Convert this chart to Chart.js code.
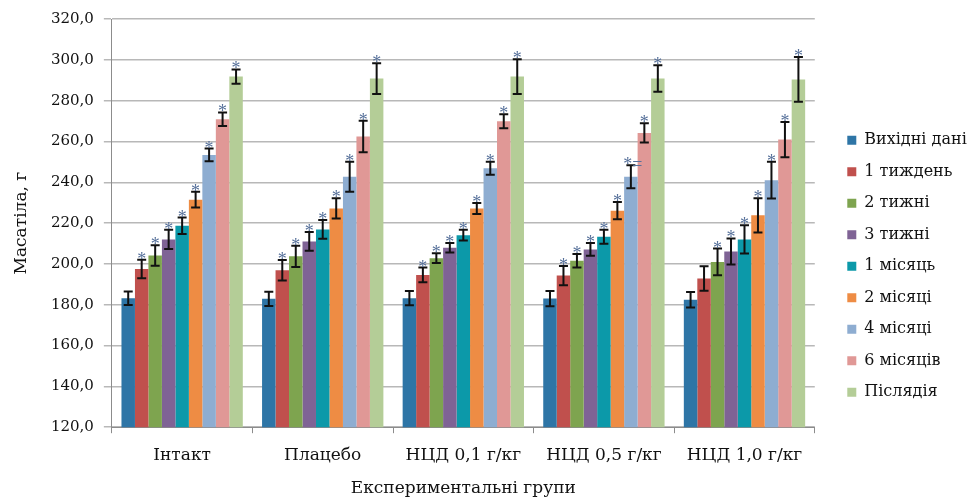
<!DOCTYPE html>
<html>
<head>
<meta charset="utf-8">
<script src="https://cdn.jsdelivr.net/npm/chart.js@4.4.1/dist/chart.umd.min.js"></script>
<style>
  html, body { margin: 0; padding: 0; background: #fff; }
</style>
</head>
<body>
<canvas id="myChart" width="975" height="499"></canvas>
<script>
const groups = ['Інтакт', 'Плацебо', 'НЦД 0,1 г/кг', 'НЦД 0,5 г/кг', 'НЦД 1,0 г/кг'];
const seriesNames = ['Вихідні дані', '1 тиждень', '2 тижні', '3 тижні', '1 місяць', '2 місяці', '4 місяці', '6 місяців', 'Післядія'];
const seriesColors = ['#2E75A6', '#C0504D', '#7EA44F', '#7F6395', '#0C99A9', '#EE8C44', '#8EADD1', '#E09896', '#B4CD97'];

const baseline = [183.2, 182.9, 183.2, 183.0, 182.4];
const week1 = [197.5, 196.9, 194.6, 194.3, 192.8];
const week2 = [204.1, 203.7, 202.8, 201.5, 201.0];
const week3 = [212.0, 211.0, 207.9, 207.1, 206.1];
const month1 = [218.7, 216.9, 214.1, 213.3, 212.0];
const month2 = [231.5, 227.2, 227.2, 226.1, 223.8];
const month4 = [253.4, 242.7, 246.9, 242.7, 241.0];
const month6 = [270.9, 262.4, 269.9, 264.2, 260.9];
const after = [291.8, 290.8, 291.8, 290.8, 290.4];

const baselineErr = [3.3, 3.5, 3.5, 3.7, 3.8];
const week1Err = [4.5, 5.0, 3.6, 4.7, 6.0];
const week2Err = [5.0, 5.2, 2.4, 3.3, 6.5];
const week3Err = [4.7, 4.6, 2.3, 3.1, 6.4];
const month1Err = [4.0, 4.6, 2.6, 3.4, 6.9];
const month2Err = [3.8, 5.0, 2.7, 4.2, 8.4];
const month4Err = [3.1, 7.4, 3.2, 5.6, 9.0];
const month6Err = [3.3, 7.7, 3.4, 4.7, 8.6];
const afterErr = [3.5, 7.5, 8.5, 6.5, 11.0];

const baselineMarks = ['', '', '', '', ''];
const week1Marks = ['*', '*', '*', '*', ''];
const week2Marks = ['*', '*', '*', '*', '*'];
const week3Marks = ['*', '*', '*', '*', '*'];
const month1Marks = ['*', '*', '*', '*', '*'];
const month2Marks = ['*', '*', '*', '*', '*'];
const month4Marks = ['*', '*', '*', '*=', '*'];
const month6Marks = ['*', '*', '*', '*', '*'];
const afterMarks = ['*', '*', '*', '*', '*'];

const values = [baseline, week1, week2, week3, month1, month2, month4, month6, after];
const errors = [baselineErr, week1Err, week2Err, week3Err, month1Err, month2Err, month4Err, month6Err, afterErr];
const marks = [baselineMarks, week1Marks, week2Marks, week3Marks, month1Marks, month2Marks, month4Marks, month6Marks, afterMarks];

const yTicks = [120, 140, 160, 180, 200, 220, 240, 260, 280, 300, 320];

const serif = "'DejaVu Serif', 'Liberation Serif', serif";
Chart.defaults.font.family = serif;
Chart.defaults.color = '#1a1a1a';

// error bars and significance marks
const errorBars = {
    id: 'errorBars',
    afterDatasetsDraw(chart) {
        const ctx = chart.ctx;
        const y = chart.scales.y;
        ctx.save();
        chart.data.datasets.forEach((ds, i) => {
            const meta = chart.getDatasetMeta(i);
            meta.data.forEach((bar, j) => {
                const v = ds.data[j];
                const e = errors[i][j];
                const top = y.getPixelForValue(v + e);
                const bottom = y.getPixelForValue(v - e);
                ctx.strokeStyle = '#111';
                ctx.lineWidth = 2;
                ctx.beginPath();
                ctx.moveTo(bar.x, top);
                ctx.lineTo(bar.x, bottom);
                ctx.moveTo(bar.x - 4.5, top);
                ctx.lineTo(bar.x + 4.5, top);
                ctx.moveTo(bar.x - 4.5, bottom);
                ctx.lineTo(bar.x + 4.5, bottom);
                ctx.stroke();
                const m = marks[i][j];
                if (m) {
                    ctx.fillStyle = '#56709a';
                    ctx.font = "18px 'Liberation Serif'";
                    ctx.textAlign = 'center';
                    ctx.textBaseline = 'alphabetic';
                    ctx.fillText(m, bar.x + (m.length > 1 ? 2 : 0), top + 5);
                }
            });
        });
        ctx.restore();
    }
};

// push the legend a little to the right, as in the original layout
const legendShift = {
    id: 'legendShift',
    afterLayout(chart) {
        chart.legend.left += 17;
    }
};

const ctx = document.getElementById('myChart').getContext('2d');
const myChart = new Chart(ctx, {
    type: 'bar',
    data: {
        labels: groups,
        datasets: seriesNames.map((name, i) => ({
            label: name,
            data: values[i],
            backgroundColor: seriesColors[i],
            borderWidth: 0,
            barPercentage: 1.0,
            categoryPercentage: 0.863
        }))
    },
    options: {
        responsive: false,
        animation: false,
        layout: { padding: { top: 14.3, right: 0, bottom: 0, left: 0 } },
        plugins: {
            legend: {
                position: 'right',
                title: { display: true, text: ' ', font: { size: 10 }, padding: 3.5 },
                labels: {
                    boxWidth: 9,
                    boxHeight: 9,
                    padding: 15.5,
                    color: '#111',
                    font: { size: 16 },
                    generateLabels: (chart) => Chart.defaults.plugins.legend.labels.generateLabels(chart)
                        .map(l => Object.assign(l, { text: l.text + '\u00a0\u00a0\u00a0' }))
                }
            },
            tooltip: { enabled: false }
        },
        scales: {
            x: {
                grid: { drawOnChartArea: false, offset: true, tickLength: 6, color: '#8c8c8c' },
                border: { color: '#8c8c8c', width: 1 },
                ticks: { padding: 12.5, maxRotation: 0, color: '#111', font: { size: 17 } },
                title: {
                    display: true,
                    text: 'Експериментальні групи',
                    color: '#111',
                    font: { size: 17 },
                    padding: 0
                }
            },
            y: {
                min: 120,
                max: 320,
                afterBuildTicks: (axis) => { axis.ticks = yTicks.map(v => ({ value: v })); },
                grid: { color: '#b8b8b8', lineWidth: 1.5, tickLength: 8 },
                border: { color: '#8c8c8c', width: 1 },
                ticks: {
                    padding: 10,
                    color: '#111',
                    font: { size: 15 },
                    callback: (v) => Number(v).toFixed(1).replace('.', ',')
                },
                title: {
                    display: true,
                    text: 'Масатіла, г',
                    color: '#111',
                    font: { size: 17 },
                    padding: { top: 11, bottom: 9.5 }
                }
            }
        }
    },
    plugins: [errorBars, legendShift]
});
</script>
</body>
</html>
